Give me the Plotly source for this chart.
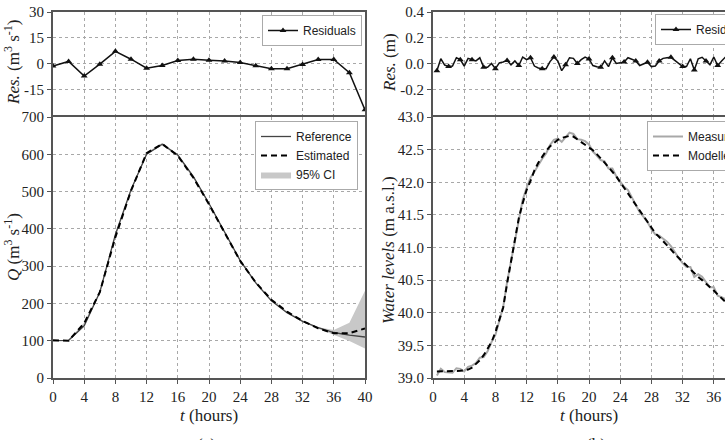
import plotly.graph_objects as go

# ---------------- Panel (a): discharge ----------------
t_q = [0, 2, 4, 6, 8, 10, 12, 14, 16, 18, 20, 22, 24, 26, 28, 30, 32, 34, 36, 38, 40]
q_reference = [100, 101, 140, 230, 385, 505, 600, 627, 598, 540, 468, 390, 315, 255, 207, 175, 152, 135, 122, 115, 110]
q_estimated = [101, 100, 147, 230, 378, 502, 603, 628, 596, 537, 466, 388, 314, 256, 210, 178, 153, 133, 120, 120, 133]
q_ci_lower = [99, 99, 138, 228, 376, 500, 598, 624, 594, 535, 464, 386, 312, 253, 206, 174, 150, 132, 115, 99, 79]
q_ci_upper = [102, 102, 149, 232, 387, 507, 605, 630, 600, 542, 470, 392, 317, 258, 211, 179, 155, 136, 129, 148, 234]
q_residuals = [-1.5, 1.2, -7.3, -0.4, 7.1, 2.5, -2.7, -1.2, 1.7, 2.5, 1.9, 1.5, 0.6, -1.3, -3.1, -3.1, -0.6, 2.3, 2.3, -5.4, -27]

# ---------------- Panel (b): water levels ----------------
t_h = [0.5 * i for i in range(1, 81)]
h_residuals = [-0.056, 0.037, -0.012, -0.024, -0.020, 0.045, 0.030, -0.020, 0.040, 0.030,
               0.020, 0.044, -0.030, -0.030, 0.000, -0.040, 0.005, 0.012, 0.024, -0.010,
               0.020, -0.016, 0.050, 0.030, 0.045, -0.020, -0.035, -0.040, -0.040, 0.015,
               0.050, 0.020, -0.056, -0.010, 0.045, 0.040, 0.000, 0.030, 0.050, 0.035,
               -0.016, -0.025, -0.030, 0.020, -0.024, 0.045, 0.000, 0.005, 0.012, 0.045,
               0.030, 0.020, -0.016, -0.005, 0.010, -0.024, -0.020, 0.020, 0.040, 0.045,
               0.048, 0.024, 0.000, -0.024, -0.024, 0.037, -0.050, 0.037, 0.048, 0.020,
               -0.010, 0.050, -0.016, 0.020, 0.050, -0.010, 0.030, -0.020, 0.020, 0.000]
h_modelled = [39.10, 39.10, 39.10, 39.10, 39.10, 39.10, 39.11, 39.12, 39.13, 39.16,
              39.21, 39.27, 39.35, 39.44, 39.55, 39.70, 39.88, 40.08, 40.45, 40.80,
              41.10, 41.45, 41.68, 41.88, 42.02, 42.18, 42.30, 42.40, 42.48, 42.55,
              42.60, 42.65, 42.68, 42.70, 42.71, 42.70, 42.66, 42.62, 42.58, 42.54,
              42.49, 42.43, 42.37, 42.30, 42.23, 42.16, 42.09, 42.00, 41.92, 41.83,
              41.74, 41.65, 41.56, 41.47, 41.38, 41.30, 41.22, 41.16, 41.10, 41.04,
              40.97, 40.90, 40.84, 40.78, 40.72, 40.66, 40.60, 40.55, 40.50, 40.45,
              40.40, 40.34, 40.28, 40.22, 40.16, 40.10, 40.05, 40.00, 39.95, 39.90]
h_measured = [39.04, 39.14, 39.09, 39.08, 39.08, 39.15, 39.14, 39.10, 39.17, 39.19,
              39.23, 39.31, 39.32, 39.41, 39.55, 39.66, 39.89, 40.09, 40.47, 40.79,
              41.12, 41.43, 41.73, 41.91, 42.07, 42.16, 42.27, 42.36, 42.44, 42.57,
              42.65, 42.67, 42.62, 42.69, 42.76, 42.74, 42.66, 42.65, 42.63, 42.58,
              42.47, 42.41, 42.34, 42.32, 42.21, 42.21, 42.09, 42.01, 41.93, 41.88,
              41.77, 41.67, 41.54, 41.47, 41.39, 41.28, 41.20, 41.18, 41.14, 41.09,
              41.02, 40.92, 40.84, 40.76, 40.70, 40.70, 40.55, 40.59, 40.55, 40.47,
              40.39, 40.39, 40.26, 40.24, 40.21, 40.09, 40.08, 39.98, 39.97, 39.90]

x_ticks = [0, 4, 8, 12, 16, 20, 24, 28, 32, 36, 40]
resq_ticks = [-15, 0, 15, 30]
resq_text = ["-15", "0", "15", "30"]
resh_ticks = [-0.2, 0.0, 0.2, 0.4]
resh_text = ["-0.2", "0.0", "0.2", "0.4"]

SERIF = "Liberation Serif"
SANS = "Liberation Sans"

fig = go.Figure()

# (a) residuals
fig.add_trace(go.Scatter(x=t_q, y=q_residuals, mode="lines+markers", name="Residuals",
                         xaxis="x", yaxis="y", legend="legend",
                         line=dict(color="#111", width=1.5),
                         marker=dict(symbol="triangle-up", size=6, color="#111")))
# (a) CI band
fig.add_trace(go.Scatter(x=t_q, y=q_ci_lower, mode="lines", line=dict(width=0, color="#c8c8c8"),
                         xaxis="x2", yaxis="y2", showlegend=False, hoverinfo="skip"))
fig.add_trace(go.Scatter(x=t_q, y=q_ci_upper, mode="lines", fill="tonexty", fillcolor="#c8c8c8",
                         line=dict(width=0, color="#c8c8c8"), name="95% CI",
                         xaxis="x2", yaxis="y2", legend="legend2", legendrank=3))
fig.add_trace(go.Scatter(x=t_q, y=q_reference, mode="lines", name="Reference",
                         line=dict(color="#444", width=1.3),
                         xaxis="x2", yaxis="y2", legend="legend2", legendrank=1))
fig.add_trace(go.Scatter(x=t_q, y=q_estimated, mode="lines", name="Estimated",
                         line=dict(color="#000", width=2, dash="6px,4px"),
                         xaxis="x2", yaxis="y2", legend="legend2", legendrank=2))

# (b) residuals
fig.add_trace(go.Scatter(x=t_h, y=h_residuals, mode="lines+markers", name="Residuals",
                         xaxis="x3", yaxis="y3", legend="legend3",
                         line=dict(color="#111", width=1.5),
                         marker=dict(symbol="triangle-up", size=6, color="#111", maxdisplayed=27)))
fig.add_trace(go.Scatter(x=t_h, y=h_measured, mode="lines", name="Measured",
                         line=dict(color="#a8a8a8", width=2),
                         xaxis="x4", yaxis="y4", legend="legend4"))
fig.add_trace(go.Scatter(x=t_h, y=h_modelled, mode="lines", name="Modelled",
                         line=dict(color="#000", width=2, dash="6px,4px"),
                         xaxis="x4", yaxis="y4", legend="legend4"))

W, H = 820, 455
ML, MR, MT, MB = 53, 75, 12, 77
PW = W - ML - MR
PH = H - MT - MB


def px_x(p):
    return (p - ML) / PW


def px_y(p):
    return (H - MB - p) / PH


base = dict(showline=True, linewidth=2, linecolor="#555", mirror=True,
            showgrid=True, gridcolor="#a8a8a8", griddash="dot", gridwidth=1,
            zeroline=False, ticks="outside", ticklen=4, tickcolor="#555",
            tickfont=dict(family=SERIF, size=15, color="#222"), automargin=False)

left_dom = [0, px_x(365)]
right_dom = [px_x(433), px_x(745)]
top_dom = [px_y(115), 1]
bot_dom = [0, px_y(117)]

fig.update_layout(
    xaxis=dict(base, domain=left_dom, range=[0, 40], tickvals=x_ticks, showticklabels=False,
               ticks="", anchor="y"),
    yaxis=dict(base, domain=top_dom, range=[-30, 30], tickvals=resq_ticks, ticktext=resq_text,
               anchor="x"),
    xaxis2=dict(base, domain=left_dom, range=[0, 40], tickvals=x_ticks, anchor="y2"),
    yaxis2=dict(base, domain=bot_dom, range=[0, 700], dtick=100, anchor="x2"),
    xaxis3=dict(base, domain=right_dom, range=[0, 40], tickvals=x_ticks, showticklabels=False,
                ticks="", anchor="y3"),
    yaxis3=dict(base, domain=top_dom, range=[-0.4, 0.4], tickvals=resh_ticks, ticktext=resh_text,
                anchor="x3"),
    xaxis4=dict(base, domain=right_dom, range=[0, 40], tickvals=x_ticks, anchor="y4"),
    yaxis4=dict(base, domain=bot_dom, range=[39.0, 43.0], dtick=0.5, tickformat=".1f",
                anchor="x4"),
)

leg = dict(font=dict(family=SANS, size=12, color="#222"), bgcolor="white",
           bordercolor="#aaa", borderwidth=1, yanchor="top",
           tracegroupgap=0, itemwidth=30, traceorder="normal")
fig.update_layout(
    legend=dict(leg, x=px_x(362), xanchor="right", y=px_y(15)),
    legend2=dict(leg, x=px_x(358), xanchor="right", y=px_y(121)),
    legend3=dict(leg, x=px_x(655), xanchor="left", y=px_y(14)),
    legend4=dict(leg, x=px_x(647), xanchor="left", y=px_y(121)),
)

title_font = dict(family=SERIF, size=17, color="#222")
ann = [
    dict(text="<i>Res.</i> (m<sup>3</sup> s<sup>-1</sup>)", x=px_x(12), y=px_y(63)),
    dict(text="<i>Q</i> (m<sup>3</sup> s<sup>-1</sup>)", x=px_x(12), y=px_y(247)),
    dict(text="<i>Res.</i> (m)", x=px_x(389), y=px_y(63)),
    dict(text="<i>Water levels</i> (m a.s.l.)", x=px_x(388), y=px_y(250)),
]
for a in ann:
    fig.add_annotation(xref="paper", yref="paper", textangle=-90, showarrow=False,
                       xanchor="center", yanchor="middle", font=title_font, **a)
for xc, txt in [(209, "<i>t</i> (hours)"), (589, "<i>t</i> (hours)")]:
    fig.add_annotation(xref="paper", yref="paper", x=px_x(xc), y=px_y(415), text=txt,
                       showarrow=False, xanchor="center", yanchor="middle", font=title_font)
for xc, txt in [(206, "(a)"), (596, "(b)")]:
    fig.add_annotation(xref="paper", yref="paper", x=px_x(xc), y=px_y(444), text=txt,
                       showarrow=False, xanchor="center", yanchor="middle", font=title_font)

fig.update_layout(width=W, height=H, autosize=False,
                  margin=dict(l=ML, r=MR, t=MT, b=MB, autoexpand=False),
                  paper_bgcolor="white", plot_bgcolor="white", showlegend=True)

fig.write_html("out.html", post_script=(
    "document.documentElement.style.overflow='hidden';"
    "document.body.style.overflow='hidden';document.body.style.margin='0';"))
